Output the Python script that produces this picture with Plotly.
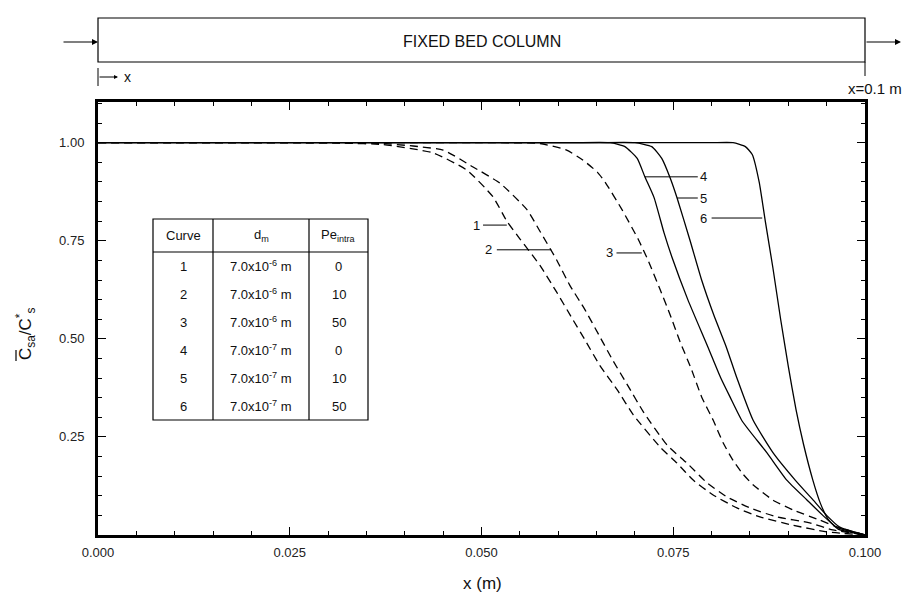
import plotly.graph_objects as go

# ---------------- data ----------------
c1_x = [0.0, 0.0100, 0.0200, 0.0263, 0.0320, 0.0372, 0.0437, 0.0481, 0.0515, 0.0533, 0.0550, 0.0576, 0.0598,
        0.0617, 0.0635, 0.0654, 0.0677, 0.0698, 0.0733, 0.0755, 0.0776, 0.0802, 0.0833, 0.0863, 0.0906,
        0.0950, 0.1]
c1_y = [1.0, 1.0, 1.0, 1.0, 0.999, 0.995, 0.974, 0.930, 0.862, 0.800, 0.755, 0.688, 0.619,
        0.556, 0.497, 0.433, 0.370, 0.306, 0.224, 0.183, 0.140, 0.102, 0.069, 0.046, 0.025,
        0.008, 0.0]

c2_x = [0.0, 0.0100, 0.0200, 0.0263, 0.0320, 0.0372, 0.0450, 0.0489, 0.0524, 0.0559, 0.0576, 0.0598, 0.0615,
        0.0635, 0.0653, 0.0671, 0.0691, 0.0711, 0.0742, 0.0768, 0.0794, 0.0820, 0.0850, 0.0885, 0.0928,
        0.0958, 0.1]
c2_y = [1.0, 1.0, 1.0, 1.0, 1.0, 0.998, 0.981, 0.938, 0.897, 0.830, 0.775, 0.701, 0.637,
        0.574, 0.510, 0.446, 0.380, 0.314, 0.229, 0.183, 0.133, 0.097, 0.069, 0.046, 0.031,
        0.013, 0.0]

c3_x = [0.0, 0.0150, 0.0300, 0.0400, 0.0500, 0.0576, 0.0611, 0.0632, 0.0651, 0.0661, 0.0683, 0.0704,
        0.0717, 0.0733, 0.0746, 0.0759, 0.0773, 0.0787, 0.0802, 0.0815, 0.0828, 0.0841, 0.0854, 0.0880,
        0.0906, 0.0941, 0.0964, 0.1]
c3_y = [1.0, 1.0, 1.0, 1.0, 1.0, 0.998, 0.981, 0.956, 0.925, 0.900, 0.830, 0.755,
        0.701, 0.625, 0.561, 0.492, 0.426, 0.352, 0.293, 0.235, 0.190, 0.155, 0.128, 0.089,
        0.064, 0.038, 0.020, 0.0]

c4_x = [0.0, 0.0200, 0.0400, 0.0550, 0.0620, 0.0668, 0.0687, 0.0703, 0.0713, 0.0725, 0.0738, 0.0748,
        0.0769, 0.0795, 0.0812, 0.0824, 0.0840, 0.0872, 0.0898, 0.0924, 0.0945, 0.0963, 0.1]
c4_y = [1.0, 1.0, 1.0, 1.0, 1.0, 1.0, 0.990, 0.960, 0.913, 0.860, 0.770, 0.710,
        0.600, 0.480, 0.400, 0.352, 0.290, 0.210, 0.140, 0.090, 0.050, 0.020, 0.0]

c5_x = [0.0, 0.0200, 0.0400, 0.0580, 0.0650, 0.0700, 0.0722, 0.0735, 0.0746, 0.0755, 0.0772, 0.0787,
        0.0803, 0.0819, 0.0833, 0.0854, 0.0880, 0.0909, 0.0932, 0.0950, 0.0967, 0.1]
c5_y = [1.0, 1.0, 1.0, 1.0, 1.0, 1.0, 0.990, 0.960, 0.910, 0.859, 0.750, 0.650,
        0.560, 0.480, 0.400, 0.293, 0.210, 0.140, 0.090, 0.050, 0.020, 0.0]

c6_x = [0.0, 0.0200, 0.0400, 0.0600, 0.0740, 0.0800, 0.0828, 0.0844, 0.0853, 0.0862, 0.0870, 0.0880,
        0.0890, 0.0900, 0.0910, 0.0920, 0.0932, 0.0942, 0.0952, 0.0965, 0.1]
c6_y = [1.0, 1.0, 1.0, 1.0, 1.0, 1.0, 1.0, 0.990, 0.970, 0.900, 0.800, 0.680,
        0.550, 0.430, 0.320, 0.230, 0.140, 0.080, 0.040, 0.015, 0.0]

curves = [(c1_x, c1_y, "dash"), (c2_x, c2_y, "dash"), (c3_x, c3_y, "dash"),
          (c4_x, c4_y, "solid"), (c5_x, c5_y, "solid"), (c6_x, c6_y, "solid")]

table_curve = ["1", "2", "3", "4", "5", "6"]
table_dm = ["7.0x10<sup>-6</sup> m"] * 3 + ["7.0x10<sup>-7</sup> m"] * 3
table_pe = ["0", "10", "50", "0", "10", "50"]

x_ticks = [0.0, 0.025, 0.05, 0.075, 0.1]
y_ticks = [0.25, 0.5, 0.75, 1.0]

# ---------------- layout geometry ----------------
W, H = 904, 603
L, R, T, B = 98, 865, 102, 535


def px(xp):
    return (xp - L) / (R - L)


def py(yp):
    return (B - yp) / (B - T)


FONT = "Liberation Sans, Arial, Helvetica, sans-serif"
fig = go.Figure()

for cx, cy, dash in curves:
    fig.add_trace(go.Scatter(
        x=cx, y=cy, mode="lines",
        line=dict(color="black", width=1.3, dash="8px,5px" if dash == "dash" else "solid",
                  shape="spline", smoothing=0.5),
        showlegend=False, hoverinfo="skip", cliponaxis=True))

shapes = []
annotations = []


def ptext(xp, yp, text, size=13, xanchor="center", yanchor="middle", **kw):
    annotations.append(dict(xref="paper", yref="paper", x=px(xp), y=py(yp), text=text,
                            xanchor=xanchor, yanchor=yanchor, showarrow=False,
                            font=dict(family=FONT, size=size, color="#111"), **kw))


# top column diagram
shapes.append(dict(type="rect", xref="paper", yref="paper",
                   x0=px(98), x1=px(865), y0=py(62), y1=py(18),
                   line=dict(color="black", width=1.2)))
shapes.append(dict(type="line", xref="paper", yref="paper",
                   x0=px(98), x1=px(98), y0=py(68), y1=py(86),
                   line=dict(color="black", width=1)))
shapes.append(dict(type="line", xref="paper", yref="paper",
                   x0=px(865), x1=px(865), y0=py(62), y1=py(76),
                   line=dict(color="black", width=1)))
ptext(482, 41, "FIXED BED COLUMN", size=16)
annotations.append(dict(xref="paper", yref="paper", x=px(98), y=py(42), text="", showarrow=True,
                        ax=-36, ay=0, arrowhead=2, arrowsize=1, arrowwidth=1.2, arrowcolor="black"))
annotations.append(dict(xref="paper", yref="paper", x=px(901), y=py(42), text="", showarrow=True,
                        ax=-36, ay=0, arrowhead=2, arrowsize=1, arrowwidth=1.2, arrowcolor="black"))
annotations.append(dict(xref="paper", yref="paper", x=px(118), y=py(77), text="", showarrow=True,
                        ax=-20, ay=0, arrowhead=2, arrowsize=0.8, arrowwidth=1, arrowcolor="black"))
ptext(122, 77, "x", size=14, xanchor="left")
ptext(904, 88, "x=0.1 m", size=15, xanchor="right")

# table
tl, tc1, tc2, tr = 153, 213, 309, 368
tt, th, tb = 219, 252, 420
shapes.append(dict(type="rect", xref="paper", yref="paper", x0=px(tl), x1=px(tr), y0=py(tb), y1=py(tt),
                   line=dict(color="black", width=1.2), fillcolor="white", layer="above"))
shapes.append(dict(type="line", xref="paper", yref="paper", x0=px(tl), x1=px(tr), y0=py(th), y1=py(th),
                   line=dict(color="black", width=1.2)))
for cx_ in (tc1, tc2):
    shapes.append(dict(type="line", xref="paper", yref="paper", x0=px(cx_), x1=px(cx_), y0=py(tb), y1=py(tt),
                       line=dict(color="black", width=1.2)))
col_centers = [(tl + tc1) / 2, (tc1 + tc2) / 2, (tc2 + tr) / 2]
for txt, cxp in zip(["Curve", "d<sub>m</sub>", "Pe<sub>intra</sub>"], col_centers):
    ptext(cxp, (tt + th) / 2, txt)
row_h = (tb - th) / len(table_curve)
for i, (c, d, p) in enumerate(zip(table_curve, table_dm, table_pe)):
    yy = th + row_h * (i + 0.5)
    for txt, cxp in zip([c, d, p], col_centers):
        ptext(cxp, yy, txt)

# curve labels with leader lines (data coordinates)
labels = [
    ("1", 0.0493, 0.790, 0.0502, 0.0533),
    ("2", 0.0509, 0.727, 0.0520, 0.0591),
    ("3", 0.0667, 0.719, 0.0676, 0.0709),
    ("4", 0.0790, 0.913, 0.0713, 0.0782),
    ("5", 0.0790, 0.859, 0.0755, 0.0782),
    ("6", 0.0790, 0.808, 0.0800, 0.0866),
]
for t, lx, ly, x0, x1 in labels:
    annotations.append(dict(x=lx, y=ly, text=t, showarrow=False, xanchor="center", yanchor="middle",
                            font=dict(family=FONT, size=13, color="#111")))
    shapes.append(dict(type="line", x0=x0, x1=x1, y0=ly, y1=ly, line=dict(color="black", width=1)))

# axis titles
ptext(482, 583, "x (m)", size=17)
# rotated y title: text starts (the "C") at the bottom, y=362 px
ptext(25, 362, "C<sub>sa</sub>/C<sup>*</sup><sub>s</sub>", size=17, yanchor="bottom", textangle=-90)
# overline above the first C of the rotated title
shapes.append(dict(type="line", xref="paper", yref="paper",
                   x0=px(16), x1=px(16), y0=py(361), y1=py(350),
                   line=dict(color="black", width=1.2)))

fig.update_layout(
    width=W, height=H,
    margin=dict(l=L, r=W - R, t=T, b=H - B, pad=0),
    paper_bgcolor="white", plot_bgcolor="white",
    shapes=shapes, annotations=annotations,
    xaxis=dict(range=[0, 0.1], tickvals=x_ticks, tickformat=".3f",
               ticks="inside", ticklen=8, tickwidth=1, tickcolor="black",
               minor=dict(ticks="inside", ticklen=4, dtick=0.005, tick0=0, tickcolor="black"),
               mirror="allticks", showline=True, linecolor="black", linewidth=3,
               showgrid=False, zeroline=False,
               tickfont=dict(family=FONT, size=13, color="#222"), ticklabelstandoff=3),
    yaxis=dict(range=[0, (B - T) / (B - 142.7)], tickvals=y_ticks, tickformat=".2f",
               ticks="inside", ticklen=8, tickwidth=1, tickcolor="black",
               minor=dict(ticks="inside", ticklen=4, dtick=0.05, tick0=0, tickcolor="black"),
               mirror="allticks", showline=True, linecolor="black", linewidth=3,
               showgrid=False, zeroline=False,
               tickfont=dict(family=FONT, size=13, color="#222"), ticklabelstandoff=8),
)

fig.write_html("out.html")
